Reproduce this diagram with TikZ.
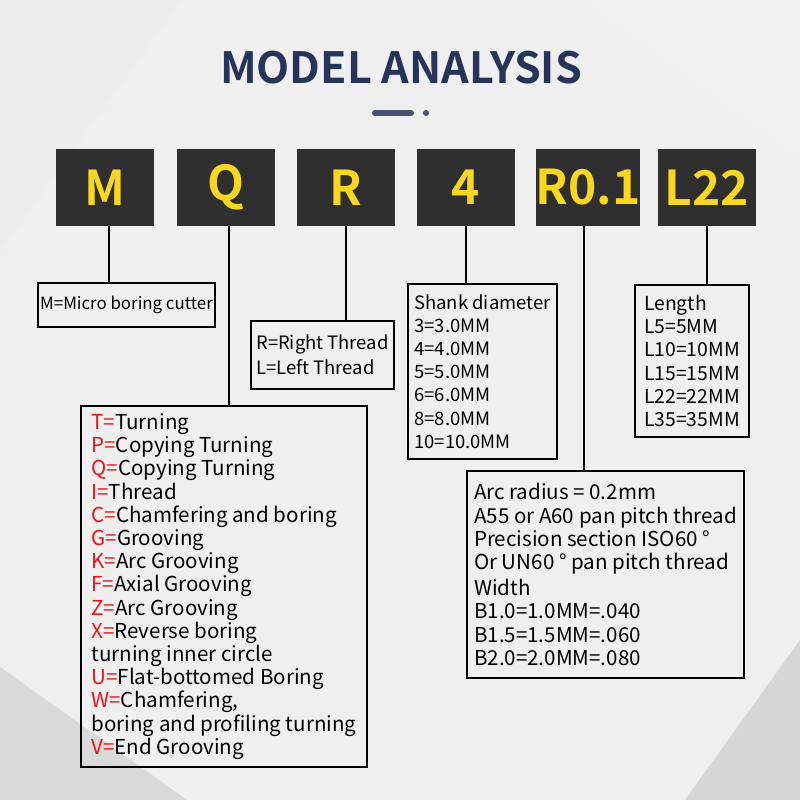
\documentclass[tikz,border=0pt]{standalone}
\usepackage{fontspec}
\setmainfont{Noto Sans CJK SC}[BoldFont={Noto Sans CJK SC Bold}]
\usetikzlibrary{positioning}
\definecolor{bgGray}{HTML}{EFEFEF}
\definecolor{codeDark}{HTML}{2F2F2F}
\definecolor{codeYellow}{HTML}{F9D71C}
\definecolor{titleNavy}{HTML}{26345A}
\definecolor{keyRed}{HTML}{E8141B}
\newcommand{\ky}[1]{\textcolor{keyRed}{#1=}}

\begin{document}
\begin{tikzpicture}[x=0.02cm,y=-0.02cm,
  codebox/.style={fill=codeDark,text=codeYellow,font=\fontsize{27.3}{30}\selectfont\bfseries,
    minimum width=1.96cm,minimum height=1.54cm,inner sep=0pt},
  descbox/.style={draw,line width=1.3pt,align=left,inner sep=0pt,
    font=\fontsize{11}{13.2}\selectfont},
  bigtext/.style={font=\fontsize{11.7}{13.2}\selectfont},
  link/.style={line width=1.3pt}]
% background
\fill[bgGray] (0,0) rectangle (800,800);
\useasboundingbox (0,0) rectangle (800,800);
\fill[black!7] (0,0) -- (182,0) -- (0,252) -- cycle;
\fill[black!6] (577,0) -- (800,0) -- (800,163) -- cycle;
\fill[black!15] (0,667) -- (187,800) -- (0,800) -- cycle;
\fill[black!16] (800,640) -- (800,800) -- (685,800) -- cycle;
% title
\node[text=titleNavy,font=\fontsize{24.5}{27}\selectfont\bfseries] (title) at (401,68) {MODEL ANALYSIS};
\draw[titleNavy!85,line width=3.4pt,line cap=round] (375,113) -- (411,113);
\fill[titleNavy!85] (426,113) circle (0.06cm);
% code letters
\node[codebox] (cM) at (105,187.5) {M};
\node[codebox] (cQ) at (226,187.5) {Q};
\node[codebox] (cR) at (346,187.5) {R};
\node[codebox] (c4) at (466,187.5) {4};
\node[codebox] (cR01) at (588,187.5) {R0.1};
\node[codebox] (cL22) at (707,187.5) {L22};
% descriptions
\node[descbox,font=\fontsize{9.6}{13.2}\selectfont,minimum width=3.54cm,minimum height=0.88cm] (dM) at (126.5,305) {M=Micro boring cutter};
\node[descbox,font=\fontsize{10.5}{14}\selectfont,minimum width=2.86cm,minimum height=1.36cm] (dR) at (322.5,355) {R=Right Thread\\L=Left Thread};
\node[descbox,font=\fontsize{10.5}{13.2}\selectfont,minimum width=2.98cm,minimum height=3.5cm] (d4) at (482.5,371.5)
  {Shank diameter\\3=3.0MM\\4=4.0MM\\5=5.0MM\\6=6.0MM\\8=8.0MM\\10=10.0MM};
\node[descbox,minimum width=2.28cm,minimum height=3.04cm] (dL22) at (692,361)
  {Length\\L5=5MM\\L10=10MM\\L15=15MM\\L22=22MM\\L35=35MM};
\node[descbox,bigtext,minimum width=5.72cm,minimum height=7.22cm] (dQ) at (224,586.5)
  {\ky{T}Turning\\\ky{P}Copying Turning\\\ky{Q}Copying Turning\\\ky{I}Thread\\
   \ky{C}Chamfering and boring\\\ky{G}Grooving\\\ky{K}Arc Grooving\\\ky{F}Axial Grooving\\
   \ky{Z}Arc Grooving\\\ky{X}Reverse boring\\turning inner circle\\\ky{U}Flat-bottomed Boring\\
   \ky{W}Chamfering,\\boring and profiling turning\\\ky{V}End Grooving};
\node[descbox,bigtext,minimum width=5.54cm,minimum height=4.14cm] (dR01) at (605.5,574.5)
  {Arc radius = 0.2mm\\A55 or A60 pan pitch thread\\Precision section ISO60 °\\
   Or UN60 ° pan pitch thread\\[0.06cm]Width\\B1.0=1.0MM=.040\\B1.5=1.5MM=.060\\B2.0=2.0MM=.080};
% connectors
\draw[link] ([xshift=0.08cm]cM.south) -- ([xshift=0.08cm]cM.south |- dM.north);
\draw[link] ([xshift=0.06cm]cQ.south) -- ([xshift=0.06cm]cQ.south |- dQ.north);
\draw[link] (cR.south) -- (cR.south |- dR.north);
\draw[link] (c4.south) -- (c4.south |- d4.north);
\draw[link] ([xshift=-0.08cm]cR01.south) -- ([xshift=-0.08cm]cR01.south |- dR01.north);
\draw[link] (cL22.south) -- (cL22.south |- dL22.north);
\end{tikzpicture}
\end{document}
